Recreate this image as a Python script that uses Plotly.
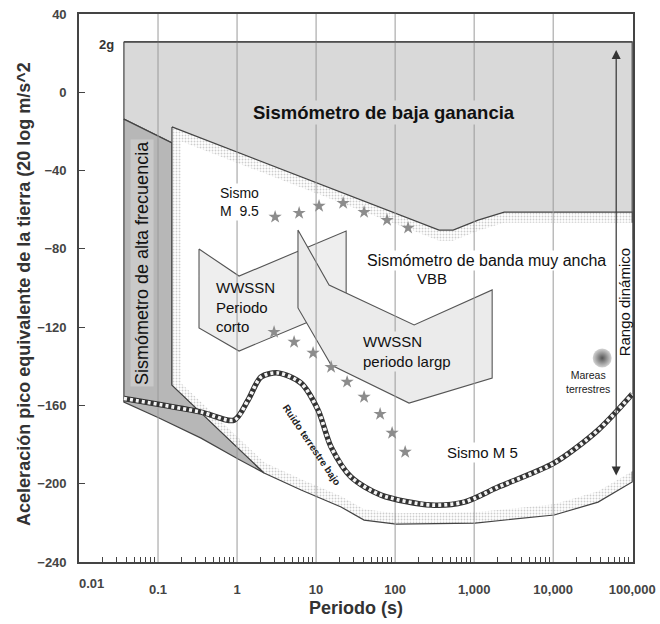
import numpy as np
import plotly.graph_objects as go

FONT = "Liberation Sans, Arial, sans-serif"

# ---------------- axes ----------------
x_tick_vals = [0.01, 0.1, 1, 10, 100, 1000, 10000, 100000]
x_tick_text = ["0.01", "0.1", "1", "10", "100", "1,000", "10,000", "100,000"]
x_minor_mult = [2, 3, 4, 5, 6, 7, 8, 9]
y_tick_vals = [40, 0, -40, -80, -120, -160, -200, -240]
x_range_log = [-2, 5.01]
y_range = [-240, 40]

# ---------------- regions (period s, dB) ----------------
two_g = 25.8
low_gain_x = [0.037, 100000, 100000, 0.15, 0.15, 0.037]
low_gain_y = [two_g, two_g, -75, -75, -25.9, -13.7]

high_freq_x = [0.037, 0.15, 0.15, 2.2, 1.03, 0.35, 0.103, 0.037]
high_freq_y = [-13.7, -25.9, -149.6, -194.5, -187.4, -176.7, -166.4, -158.3]

vbb_top_x = [0.15, 360, 542, 1122, 2400, 100000]
vbb_top_y = [-17.7, -70.4, -70.4, -65.3, -61.2, -61.2]
vbb_bot_x = [100000, 37000, 10300, 3000, 1030, 103, 40.5, 20.7, 6.46, 2.2, 0.15]
vbb_bot_y = [-199.1, -209.4, -216.0, -218.0, -220.1, -220.6, -218.6, -211.9, -203.2, -194.5, -149.6]

wwssn_short_x = [0.33, 1.06, 24, 24, 1.06, 0.33]
wwssn_short_y = [-80.1, -93.9, -70.9, -109.2, -132.2, -120.4]

wwssn_long_x = [5.9, 14.6, 174, 1690, 1690, 150, 15.5, 5.9]
wwssn_long_y = [-70.4, -98.5, -118.9, -101.0, -146.0, -158.8, -139.4, -110.2]

# low earth noise
noise_x = [0.037, 0.35, 0.92, 1.38, 2.01, 3.3, 6.46, 10.6, 15.5, 27.7, 66.5, 286, 747, 2014, 10300, 37000, 100000]
noise_y = [-156.5, -163.4, -167.5, -157.2, -145.5, -143.4, -148.6, -162.4, -181.3, -196.6, -205.8, -210.9, -209.4, -201.7, -189.4, -172.6, -154.2]

# earthquake stars
quake95_x = [3.03, 6.1, 10.9, 22, 40.5, 79, 146]
quake95_y = [-63.7, -61.7, -58.1, -56.6, -61.2, -65.3, -69.3]
quake5_x = [2.94, 5.27, 9.16, 15.5, 24.7, 40.5, 64.6, 91.6, 134]
quake5_y = [-122.5, -127.6, -133.2, -140.4, -148.0, -155.7, -164.4, -174.1, -183.8]

# earth tides
tides_x = [41700]
tides_y = [-135.8]

# dynamic range arrow
range_arrow_x = 62700
range_arrow_top = 21.6
range_arrow_bottom = -196.6

LIGHT = "#d9d9d9"
DARK = "#b7b7b7"
BOX = "#eeeeee"
BOX2 = "#ebebeb"
EDGE = "#444444"

fig = go.Figure()

def poly(x, y, fill, line_color=EDGE, width=1.2):
    fig.add_trace(go.Scatter(x=list(x) + [x[0]], y=list(y) + [y[0]], mode="lines",
                             fill="toself", fillcolor=fill,
                             line=dict(color=line_color, width=width),
                             hoverinfo="skip", showlegend=False))

poly(low_gain_x, low_gain_y, LIGHT)
poly(high_freq_x, high_freq_y, DARK)

# VBB region with stippled inner border
vbb_x = vbb_top_x + vbb_bot_x
vbb_y = vbb_top_y + vbb_bot_y
fig.add_trace(go.Scatter(x=vbb_x + [vbb_x[0]], y=vbb_y + [vbb_y[0]], mode="lines",
                         fill="toself", fillcolor="white",
                         fillpattern=dict(shape=".", bgcolor="white", fgcolor="#9c9c9c",
                                          size=3, solidity=0.3),
                         line=dict(color=EDGE, width=1.2),
                         hoverinfo="skip", showlegend=False))

inset = 1.3
dy = 5.5
lt = np.log10(vbb_top_x)
lb = np.log10(vbb_bot_x[::-1])
bot_inc = vbb_bot_y[::-1]
left_in = vbb_top_x[0] * inset
in_top_x = [left_in] + [v for v in vbb_top_x if v > left_in]
in_top_y = [float(np.interp(np.log10(v), lt, vbb_top_y)) - dy for v in in_top_x]
in_bot_x = [v for v in vbb_bot_x if v > left_in] + [left_in]
in_bot_y = [float(np.interp(np.log10(v), lb, bot_inc)) + dy for v in in_bot_x]
ix = in_top_x + in_bot_x
iy = in_top_y + in_bot_y
fig.add_trace(go.Scatter(x=ix + [ix[0]], y=iy + [iy[0]], mode="lines", fill="toself",
                         fillcolor="white", line=dict(width=0), hoverinfo="skip",
                         showlegend=False))

poly(wwssn_short_x, wwssn_short_y, BOX, line_color="#555555", width=1.1)
poly(wwssn_long_x, wwssn_long_y, BOX2, line_color="#555555", width=1.1)

# decade grid lines (over the shaded regions)
gx, gy = [], []
for v in x_tick_vals[1:-1]:
    gx += [v, v, None]
    gy += [y_range[0], y_range[1], None]
fig.add_trace(go.Scatter(x=gx, y=gy, mode="lines", line=dict(color="#9a9a9a", width=1),
                         hoverinfo="skip", showlegend=False))

# 2g line on top
fig.add_trace(go.Scatter(x=[low_gain_x[0], low_gain_x[1]], y=[two_g, two_g], mode="lines",
                         line=dict(color=EDGE, width=1.3), hoverinfo="skip", showlegend=False))

# low noise rope
fig.add_trace(go.Scatter(x=noise_x, y=noise_y, mode="lines",
                         line=dict(color="#333333", width=5.5, shape="spline", smoothing=0.8),
                         hoverinfo="skip", showlegend=False))
fig.add_trace(go.Scatter(x=noise_x, y=noise_y, mode="lines",
                         line=dict(color="#f4f4f4", width=3.6, shape="spline", smoothing=0.8,
                                   dash="3px,3px"),
                         hoverinfo="skip", showlegend=False))

# stars
for sx, sy in ((quake95_x, quake95_y), (quake5_x, quake5_y)):
    fig.add_trace(go.Scatter(x=sx, y=sy, mode="markers",
                             marker=dict(symbol="star", size=10, color="#8c8c8c", line=dict(width=0)),
                             hoverinfo="skip", showlegend=False))

# earth tides dot
fig.add_trace(go.Scatter(x=tides_x, y=tides_y, mode="markers",
                         marker=dict(size=19, color="#d4d4d4", line=dict(width=0),
                                     gradient=dict(type="radial", color="#555555")),
                         hoverinfo="skip", showlegend=False))

L = np.log10
ann = []

def text(x, y, t, size=15, color="#111", bg=None, angle=0, align="center", xanchor="center", bold=False):
    d = dict(x=L(x), y=y, xref="x", yref="y", text=("<b>%s</b>" % t) if bold else t,
             showarrow=False, font=dict(family=FONT, size=size, color=color),
             textangle=angle, align=align, xanchor=xanchor, yanchor="middle")
    if bg:
        d["bgcolor"] = bg
    ann.append(d)

text(0.0225, 24.2, "2g", size=13, color="#333", bold=True)
text(72.6, -10.1, "Sismómetro de baja ganancia", size=18.5, bg=LIGHT, bold=True)
text(0.0627, -87.2, "Sismómetro de alta frecuencia", size=18, bg="#c9c9c9", angle=-90)
text(0.575, -56.1, "Sismo<br>M  9.5", size=14, bg="white", align="left", xanchor="left")
text(0.51, -109.7, "WWSSN<br>Periodo<br>corto", size=15, align="left", xanchor="left")
text(37.2, -132.2, "WWSSN<br>periodo largp", size=15, bg=BOX2, align="left", xanchor="left")
text(1419, -85.7, "Sismómetro de banda muy ancha", size=16, bg="white")
text(294, -94.9, "VBB", size=15, bg="white")
text(1262, -183.8, "Sismo M 5", size=15, bg="white")
text(27700, -148.0, "Mareas<br>terrestres", size=10.5, color="#222")
text(8.65, -180.2, "Ruido terrestre bajo", size=10, angle=56, bold=True, color="#222")
text(79300, -107.2, "Rango dinámico", size=15, angle=-90)

# dynamic range arrow
ann.append(dict(x=L(range_arrow_x), y=range_arrow_top, ax=L(range_arrow_x), ay=range_arrow_bottom,
                xref="x", yref="y", axref="x", ayref="y", text="", showarrow=True,
                arrowhead=2, startarrowhead=2, arrowside="end+start", arrowsize=1.5,
                arrowwidth=1.2, arrowcolor="#333"))

# first x tick label, shifted as in the original
ann.append(dict(x=L(x_tick_vals[0]), y=-0.04, xref="x", yref="paper", text="<b>%s</b>" % x_tick_text[0],
                showarrow=False, xshift=12, yanchor="middle",
                font=dict(family=FONT, size=13, color="#444")))

# axis titles
ann.append(dict(x=0.5, y=-0.084, xref="paper", yref="paper", text="<b>Periodo (s)</b>",
                showarrow=False, yanchor="middle", font=dict(family=FONT, size=18, color="#333")))
ann.append(dict(x=-0.0985, y=0.49, xref="paper", yref="paper", xanchor="center", yanchor="middle",
                text="<b>Aceleración pico equivalente de la tierra (20 log m/s^2</b>",
                textangle=-90, showarrow=False, font=dict(family=FONT, size=18, color="#333")))

minor_vals = [d * m for d in x_tick_vals[:-1] for m in x_minor_mult]

fig.update_layout(
    width=660, height=624,
    margin=dict(l=79, r=27, t=14, b=62),
    paper_bgcolor="white", plot_bgcolor="white",
    annotations=ann,
    font=dict(family=FONT),
    xaxis=dict(type="log", range=x_range_log, tickvals=x_tick_vals, automargin=False,
               ticktext=[""] + x_tick_text[1:], ticks="", showgrid=False,
               showline=True, linecolor="#444", linewidth=1.6, mirror=True,
               tickfont=dict(family=FONT, size=13, color="#444", weight="bold"),
               ticklabelstandoff=15, zeroline=False,
               minor=dict(tickvals=minor_vals, ticks="inside", ticklen=5,
                          tickcolor="#444", tickwidth=1, showgrid=False)),
    yaxis=dict(range=y_range, tickvals=y_tick_vals, ticks="inside", ticklen=6, automargin=False,
               tickcolor="#444", showgrid=False, zeroline=False,
               showline=True, linecolor="#444", linewidth=1.6, mirror=True,
               tickfont=dict(family=FONT, size=13, color="#444", weight="bold"),
               ticklabelstandoff=8),
)

fig.write_html("out.html")
